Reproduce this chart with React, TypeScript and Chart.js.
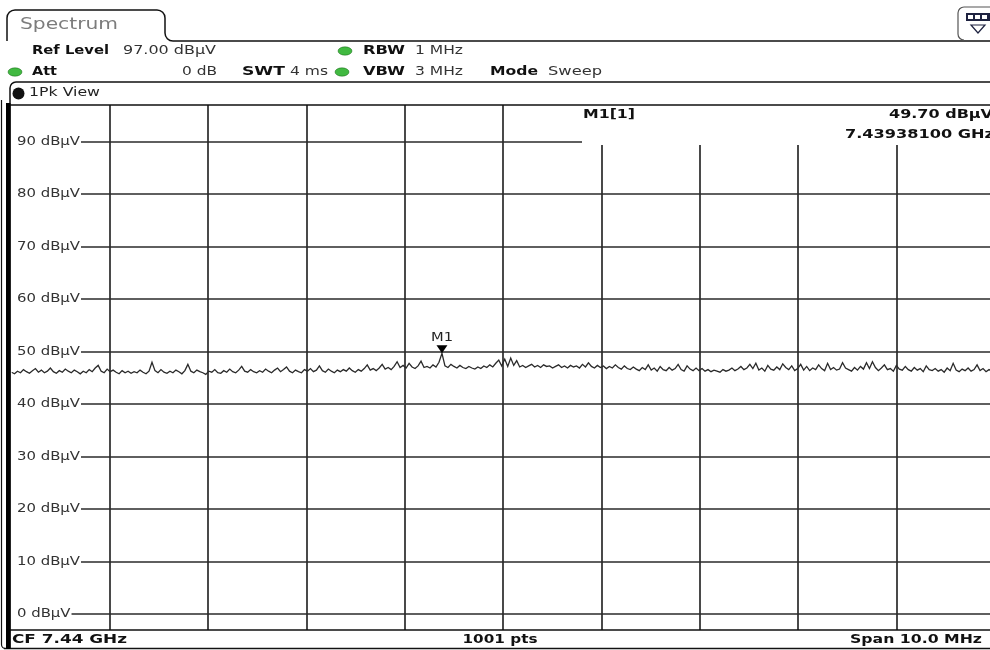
import React, { useEffect, useRef } from "react";
import { Chart, registerables } from "chart.js";

Chart.register(...registerables);

// ---- data ----
const START_MHZ = 7435;
const STOP_MHZ = 7445;
const REF_LEVEL = 97;
const BOTTOM_LEVEL = -3;
const GRID_FREQS = [7436, 7437, 7438, 7439, 7440, 7441, 7442, 7443, 7444];
const LEVEL_TICKS = [90, 80, 70, 60, 50, 40, 30, 20, 10, 0];
const LEVEL_LABELS = ["90 dBµV", "80 dBµV", "70 dBµV", "60 dBµV", "50 dBµV", "40 dBµV", "30 dBµV", "20 dBµV", "10 dBµV", "0 dBµV"];
const TRACE = [
  46.1, 45.8, 46.3, 46.0, 46.6, 46.2, 45.9, 46.4, 46.8, 46.1,
  46.5, 46.0, 46.3, 46.9, 46.2, 45.9, 46.4, 46.1, 46.7, 46.3,
  46.0, 46.5, 46.2, 45.8, 46.3, 46.0, 46.6, 46.2, 46.9, 47.4,
  46.3, 46.0, 46.7, 46.2, 46.5, 46.1, 45.8, 46.4, 46.0, 46.3,
  45.9, 46.2, 46.0, 46.5, 46.1, 45.8, 46.3, 48.0, 46.4, 46.0,
  46.6, 46.1, 45.9, 46.3, 46.0, 46.5, 46.2, 45.8, 46.4, 47.6,
  46.3, 46.0, 46.5, 46.2, 46.0, 45.7, 46.3, 46.1, 46.6, 46.0,
  45.9, 46.4, 46.1, 46.7, 46.2, 46.0, 46.5, 47.2, 46.3, 46.1,
  46.6, 46.2, 46.0, 46.4, 46.1, 46.7, 46.3, 46.0, 46.5, 46.9,
  46.2, 46.6, 47.1, 46.3, 46.0, 46.5, 46.2, 46.0, 46.6, 46.3,
  46.8, 46.2, 46.5, 47.3, 46.4, 46.1, 46.7, 46.3, 46.0, 46.5,
  46.2, 46.6, 46.3, 46.9, 46.4, 46.1, 46.6, 46.3, 46.8, 47.5,
  46.5, 46.8, 46.4, 46.9, 47.6, 46.7, 47.0, 46.6, 47.2, 48.1,
  47.0, 47.4, 46.9, 47.8, 47.1, 46.8, 47.3, 48.2, 47.0, 47.2,
  46.9, 47.5, 47.1, 48.0, 49.7, 47.3, 47.0, 47.6, 47.2, 46.9,
  47.4, 47.0, 46.8, 47.2, 46.9, 46.7, 47.1, 46.8, 47.3, 47.0,
  47.5, 47.1, 47.8, 48.4, 47.3, 48.6, 47.2, 48.8, 47.4, 48.3,
  47.1, 47.4, 47.0, 47.3, 47.6, 47.1, 47.4, 47.0, 47.5, 47.2,
  47.3, 46.9, 47.2, 47.5, 47.0, 47.3, 46.9, 47.4, 47.1, 47.3,
  46.9, 47.6, 47.1, 47.9, 47.2, 46.9, 47.4, 47.0, 47.3, 46.8,
  47.2, 46.9, 47.5, 47.0, 46.7, 47.3, 46.8, 46.6, 47.1, 46.7,
  46.4, 47.0, 46.6, 47.5, 46.5, 46.9, 46.3, 47.2, 46.6, 46.4,
  47.0, 46.5, 46.8, 47.6, 46.6, 46.3, 47.3, 46.7, 46.4, 46.9,
  46.4, 46.8, 46.3, 46.6, 46.2, 46.5, 46.3, 46.1, 46.6, 46.3,
  46.5, 46.9, 46.4, 46.7, 47.2, 46.6, 46.9, 47.6, 46.8, 47.8,
  46.5, 46.9, 46.3, 47.4, 46.7, 46.5, 47.1, 46.6, 47.7, 47.0,
  46.6, 47.3, 46.4, 46.8, 47.6, 46.5, 47.2, 46.4, 46.9, 46.6,
  47.5, 46.8, 46.4, 47.8, 46.6, 47.0, 46.5, 46.7, 47.9, 46.9,
  46.6, 46.3, 47.0, 46.5, 47.2, 46.7, 47.9, 46.8, 48.1, 47.0,
  46.4, 46.9, 47.5, 46.6, 46.8, 46.3, 47.4, 46.7, 46.5, 47.2,
  46.6, 46.3, 47.0, 46.5, 46.8, 46.2, 47.3, 46.6, 46.4, 46.8,
  46.3, 46.6, 46.1, 46.9, 46.4, 47.8, 46.5, 46.2, 46.7, 46.4,
  46.9, 46.3, 46.6, 47.5, 46.4, 46.8, 46.2, 46.6, 46.3, 46.7,
];
const MARKER_INDEX = 144;
const MARKER_NAME = "M1";
const MARKER_TITLE = "M1[1]";
const MARKER_LEVEL = "49.70 dBµV";
const MARKER_FREQ = "7.43938100 GHz";

const FONT = "DejaVu Sans";

function txt(
  ctx: CanvasRenderingContext2D,
  s: string,
  x: number,
  y: number,
  w: number,
  font: string,
  align: "left" | "right" | "center" = "left",
  color = "#000"
) {
  ctx.save();
  ctx.font = font;
  ctx.fillStyle = color;
  ctx.textBaseline = "middle";
  ctx.textAlign = "left";
  const m = ctx.measureText(s).width;
  const sx = w / m;
  const x0 = align === "left" ? x : align === "right" ? x - w : x - w / 2;
  ctx.translate(x0, y);
  ctx.scale(sx, 1);
  ctx.fillText(s, 0, 0);
  ctx.restore();
}

function pill(ctx: CanvasRenderingContext2D, cx: number, cy: number, color: string) {
  ctx.save();
  ctx.beginPath();
  ctx.ellipse(cx, cy, 7, 4.2, 0, 0, Math.PI * 2);
  ctx.fillStyle = color;
  ctx.fill();
  ctx.strokeStyle = "rgba(0,80,0,0.5)";
  ctx.lineWidth = 0.8;
  ctx.stroke();
  ctx.restore();
}

const MASK_LEFT = 582;
const MASK_BOTTOM = 145;

const framePlugin = {
  id: "spectrumFrame",
  beforeDraw(chart: any) {
    const ctx = chart.ctx;
    ctx.save();
    ctx.fillStyle = "#fff";
    ctx.fillRect(0, 0, chart.width, chart.height);
    ctx.restore();
  },
  beforeDatasetsDraw(chart: any) {
    const ctx: CanvasRenderingContext2D = chart.ctx;
    const { left, right, top, bottom } = chart.chartArea;
    const xs = chart.scales.x;
    const ys = chart.scales.y;
    ctx.save();
    // vertical grid
    ctx.strokeStyle = "#1c1c1c";
    ctx.lineWidth = 1.6;
    GRID_FREQS.forEach((f) => {
      const px = Math.round(xs.getPixelForValue(f));
      ctx.beginPath();
      ctx.moveTo(px, px > MASK_LEFT ? MASK_BOTTOM : top);
      ctx.lineTo(px, bottom);
      ctx.stroke();
    });
    // horizontal grid with labels
    ctx.font = `13px ${FONT}`;
    const sx = 63 / ctx.measureText(LEVEL_LABELS[0]).width;
    LEVEL_TICKS.forEach((v, i) => {
      const py = Math.round(ys.getPixelForValue(v));
      ctx.font = `13px ${FONT}`;
      const w = ctx.measureText(LEVEL_LABELS[i]).width * sx;
      txt(ctx, LEVEL_LABELS[i], left + 5.5, py, w, `13px ${FONT}`, "left", "#333");
      ctx.strokeStyle = "#2a2a2a";
      ctx.lineWidth = 1.6;
      ctx.beginPath();
      ctx.moveTo(left + 5.5 + w + 1, py);
      ctx.lineTo(py < MASK_BOTTOM ? MASK_LEFT : right, py);
      ctx.stroke();
    });
    // marker info
    txt(ctx, MARKER_TITLE, 583, 115, 52, `bold 13px ${FONT}`, "left", "#111");
    txt(ctx, MARKER_LEVEL, 993, 115, 104, `bold 13px ${FONT}`, "right", "#111");
    txt(ctx, MARKER_FREQ, 994, 135, 149, `bold 13px ${FONT}`, "right", "#111");
    ctx.restore();
  },
  afterDatasetsDraw(chart: any) {
    const ctx: CanvasRenderingContext2D = chart.ctx;
    const pt = chart.getDatasetMeta(0).data[MARKER_INDEX];
    const mx = pt.x;
    const my = pt.y;
    ctx.save();
    ctx.fillStyle = "#000";
    ctx.beginPath();
    ctx.moveTo(mx - 5.5, my - 8);
    ctx.lineTo(mx + 5.5, my - 8);
    ctx.lineTo(mx, my);
    ctx.closePath();
    ctx.fill();
    txt(ctx, MARKER_NAME, mx, my - 16, 22, `13px ${FONT}`, "center", "#222");
    ctx.restore();
  },
  afterDraw(chart: any) {
    const ctx: CanvasRenderingContext2D = chart.ctx;
    const { top, bottom } = chart.chartArea;
    const W = chart.width;
    ctx.save();
    ctx.strokeStyle = "#111";
    ctx.lineWidth = 1.5;
    // tab
    ctx.beginPath();
    ctx.moveTo(7, 41);
    ctx.lineTo(7, 18);
    ctx.arcTo(7, 10, 15, 10, 8);
    ctx.lineTo(157, 10);
    ctx.arcTo(165, 10, 165, 18, 8);
    ctx.lineTo(165, 33);
    ctx.arcTo(165, 41, 173, 41, 8);
    ctx.lineTo(W, 41);
    ctx.stroke();
    txt(ctx, "Spectrum", 20, 25, 98, `16px ${FONT}`, "left", "#7c7c7c");
    // icon box
    ctx.strokeStyle = "#555";
    ctx.lineWidth = 1.2;
    ctx.beginPath();
    ctx.moveTo(1000, 7);
    ctx.lineTo(964, 7);
    ctx.arcTo(958, 7, 958, 13, 6);
    ctx.lineTo(958, 34);
    ctx.arcTo(958, 40, 964, 40, 6);
    ctx.stroke();
    ctx.fillStyle = "#1e2240";
    ctx.fillRect(966, 13, 26, 8);
    ctx.fillStyle = "#fff";
    ctx.fillRect(968, 15, 5, 4);
    ctx.fillRect(975, 15, 5, 4);
    ctx.fillRect(982, 15, 5, 4);
    ctx.strokeStyle = "#1e2240";
    ctx.lineWidth = 1.2;
    ctx.beginPath();
    ctx.moveTo(971, 25);
    ctx.lineTo(985, 25);
    ctx.lineTo(978, 33);
    ctx.closePath();
    ctx.stroke();
    // header texts
    txt(ctx, "Ref Level", 32, 51, 77, `bold 13px ${FONT}`, "left", "#111");
    txt(ctx, "97.00 dBµV", 123, 51, 93, `13px ${FONT}`, "left", "#333");
    pill(ctx, 345, 51, "#41b941");
    txt(ctx, "RBW", 363, 51, 42, `bold 13px ${FONT}`, "left", "#111");
    txt(ctx, "1 MHz", 415, 51, 48, `13px ${FONT}`, "left", "#333");
    pill(ctx, 15, 72, "#41b941");
    txt(ctx, "Att", 32, 72, 25, `bold 13px ${FONT}`, "left", "#111");
    txt(ctx, "0 dB", 182, 72, 35, `13px ${FONT}`, "left", "#333");
    txt(ctx, "SWT", 242, 72, 43, `bold 13px ${FONT}`, "left", "#111");
    txt(ctx, "4 ms", 290, 72, 38, `13px ${FONT}`, "left", "#333");
    pill(ctx, 342, 72, "#41b941");
    txt(ctx, "VBW", 363, 72, 42, `bold 13px ${FONT}`, "left", "#111");
    txt(ctx, "3 MHz", 415, 72, 48, `13px ${FONT}`, "left", "#333");
    txt(ctx, "Mode", 490, 72, 48, `bold 13px ${FONT}`, "left", "#111");
    txt(ctx, "Sweep", 548, 72, 54, `13px ${FONT}`, "left", "#333");
    // view box
    ctx.strokeStyle = "#111";
    ctx.lineWidth = 1.5;
    ctx.beginPath();
    ctx.moveTo(W, 82);
    ctx.lineTo(16, 82);
    ctx.arcTo(10, 82, 10, 88, 6);
    ctx.lineTo(10, 648);
    ctx.stroke();
    ctx.fillStyle = "#111";
    ctx.beginPath();
    ctx.arc(18.5, 93.5, 6, 0, Math.PI * 2);
    ctx.fill();
    txt(ctx, "1Pk View", 29, 93, 71, `13px ${FONT}`, "left", "#222");
    // plot borders
    ctx.beginPath();
    ctx.moveTo(10, Math.round(top));
    ctx.lineTo(W, Math.round(top));
    ctx.moveTo(10, Math.round(bottom));
    ctx.lineTo(W, Math.round(bottom));
    ctx.moveTo(4, 648.5);
    ctx.lineTo(W, 648.5);
    ctx.stroke();
    ctx.fillStyle = "#000";
    ctx.fillRect(6, 103, 4.5, 546);
    ctx.lineWidth = 1.2;
    ctx.beginPath();
    ctx.moveTo(1.5, 100);
    ctx.lineTo(1.5, 644);
    ctx.arcTo(1.5, 648.5, 6, 648.5, 4);
    ctx.stroke();
    // bottom bar
    txt(ctx, "CF 7.44 GHz", 12, 640, 115, `bold 13px ${FONT}`, "left", "#111");
    txt(ctx, "1001 pts", 500, 640, 75, `bold 13px ${FONT}`, "center", "#111");
    txt(ctx, "Span 10.0 MHz", 850, 640, 132, `bold 13px ${FONT}`, "left", "#111");
    ctx.restore();
  },
};

export default function App() {
  const ref = useRef<HTMLCanvasElement | null>(null);
  useEffect(() => {
    const canvas = ref.current;
    if (!canvas) return;
    const n = TRACE.length;
    const data = TRACE.map((v, i) => ({ x: START_MHZ + (i * (STOP_MHZ - START_MHZ)) / (n - 1), y: v }));
    const chart = new Chart(canvas, {
      type: "line",
      data: {
        datasets: [
          {
            data,
            borderColor: "#2a2a2a",
            borderWidth: 1.3,
            pointRadius: 0,
            tension: 0,
            fill: false,
          },
        ],
      },
      options: {
        responsive: false,
        maintainAspectRatio: false,
        devicePixelRatio: 1,
        animation: false,
        events: [],
        layout: { padding: { left: 11.5, right: 5, top: 105, bottom: 20 } },
        plugins: { legend: { display: false }, tooltip: { enabled: false }, title: { display: false } },
        scales: {
          x: { type: "linear", min: START_MHZ, max: STOP_MHZ, display: false },
          y: { type: "linear", min: BOTTOM_LEVEL, max: REF_LEVEL, display: false },
        },
      },
      plugins: [framePlugin],
    });
    return () => chart.destroy();
  }, []);
  return (
    <div style={{ position: "fixed", left: 0, top: 0, width: 990, height: 650, overflow: "hidden", background: "#fff" }}>
      <canvas ref={ref} width={1000} height={650} style={{ display: "block", width: 1000, height: 650 }} />
    </div>
  );
}
